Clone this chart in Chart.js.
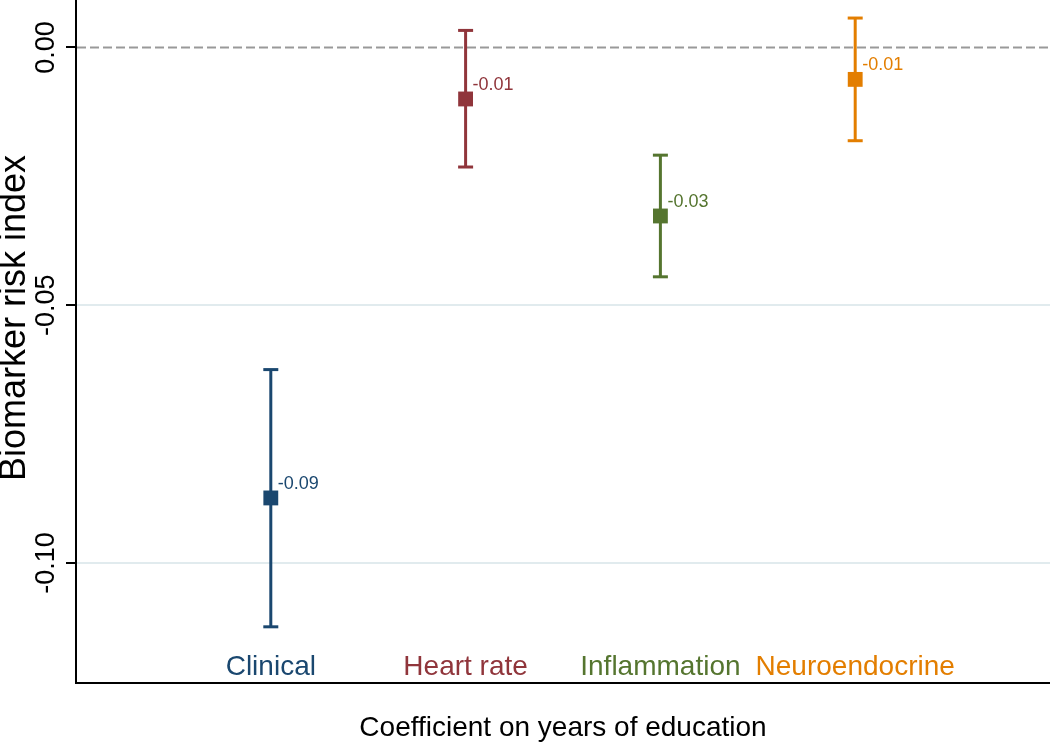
<!DOCTYPE html>
<html>
<head>
<meta charset="utf-8">
<script src="https://cdn.jsdelivr.net/npm/chart.js@4.4.0/dist/chart.umd.min.js"></script>
<style>
    body { margin: 0; background: #fff; }
    canvas { display: block; }
</style>
</head>
<body>
<canvas id="coefChart" width="1050" height="748"></canvas>
<script>
const categories = ['Clinical', 'Heart rate', 'Inflammation', 'Neuroendocrine']
const estimates = [-0.0874, -0.0100, -0.0327, -0.0062]
const lowerCI = [-0.1124, -0.0232, -0.0445, -0.0181]
const upperCI = [-0.0625, 0.0033, -0.0209, 0.0057]
const valueLabels = ['-0.09', '-0.01', '-0.03', '-0.01']
const yTicks = [0, -0.05, -0.10]
const yTickLabels = ['0.00', '-0.05', '-0.10']
const seriesColors = ['#1a476f', '#90353b', '#55752f', '#e37e00']

const FONT = "'Liberation Sans', Arial, Helvetica, sans-serif"

const datasets = []
categories.forEach((cat, i) => {
    // confidence interval with caps
    datasets.push({
        type: 'line',
        label: cat + ' CI',
        data: [{ x: i + 1, y: lowerCI[i] }, { x: i + 1, y: upperCI[i] }],
        borderColor: seriesColors[i],
        borderWidth: 3,
        showLine: true,
        pointStyle: 'line',
        pointRadius: 7.5,
        pointBorderWidth: 3,
        pointBorderColor: seriesColors[i],
        order: 2
    })
    // point estimate
    datasets.push({
        type: 'scatter',
        label: cat,
        data: [{ x: i + 1, y: estimates[i] }],
        pointStyle: 'rect',
        pointRadius: 10.5,
        backgroundColor: seriesColors[i],
        borderWidth: 0,
        order: 1
    })
})

const textPlugin = {
    id: 'textPlugin',
    beforeDatasetsDraw(chart) {
        const { ctx, chartArea, scales } = chart
        const y0 = scales.y.getPixelForValue(0)
        ctx.save()
        ctx.strokeStyle = '#999999'
        ctx.lineWidth = 2
        ctx.setLineDash([9, 4])
        ctx.beginPath()
        ctx.moveTo(chartArea.left + 1, y0)
        ctx.lineTo(chartArea.right, y0)
        ctx.stroke()
        ctx.restore()
    },
    afterDatasetsDraw(chart) {
        const { ctx, chartArea, scales } = chart
        ctx.save()
        // value labels beside markers
        ctx.font = `18px ${FONT}`
        ctx.textAlign = 'left'
        ctx.textBaseline = 'alphabetic'
        categories.forEach((cat, i) => {
            const px = scales.x.getPixelForValue(i + 1)
            const py = scales.y.getPixelForValue(estimates[i])
            ctx.fillStyle = seriesColors[i]
            ctx.fillText(valueLabels[i], px + 7, py - 9)
        })
        // category names inside plot
        ctx.font = `28px ${FONT}`
        ctx.textAlign = 'center'
        categories.forEach((cat, i) => {
            ctx.fillStyle = seriesColors[i]
            ctx.fillText(cat, scales.x.getPixelForValue(i + 1), chartArea.bottom - 8)
        })
        ctx.restore()
    },
    afterDraw(chart) {
        const { ctx, chartArea, scales } = chart
        ctx.save()
        ctx.fillStyle = '#000'
        ctx.textBaseline = 'alphabetic'
        ctx.textAlign = 'center'
        // y tick labels, rotated
        ctx.font = `27px ${FONT}`
        yTicks.forEach((v, i) => {
            const py = scales.y.getPixelForValue(v)
            ctx.save()
            ctx.translate(54, py)
            ctx.rotate(-Math.PI / 2)
            ctx.fillText(yTickLabels[i], 0, 0)
            ctx.restore()
        })
        // y title
        ctx.font = `36px ${FONT}`
        ctx.save()
        ctx.translate(25, 318)
        ctx.rotate(-Math.PI / 2)
        ctx.fillText('Biomarker risk index', 0, 0)
        ctx.restore()
        // x title
        ctx.font = `28px ${FONT}`
        ctx.fillText('Coefficient on years of education', (chartArea.left + chartArea.right) / 2, 736)
        ctx.restore()
    }
}

new Chart(document.getElementById('coefChart'), {
    type: 'scatter',
    data: { datasets: datasets },
    options: {
        responsive: false,
        animation: false,
        layout: { padding: 0, autoPadding: false },
        plugins: {
            legend: { display: false },
            tooltip: { enabled: false }
        },
        scales: {
            x: {
                type: 'linear',
                min: 0,
                max: 5,
                grid: { display: false },
                ticks: { display: false },
                border: { display: true, color: '#000', width: 2 },
                afterFit: scale => { scale.height = 65 }
            },
            y: {
                type: 'linear',
                min: -0.1233,
                max: 0.0092,
                afterBuildTicks: scale => {
                    scale.ticks = yTicks.map(v => ({ value: v }))
                },
                ticks: { display: false },
                grid: {
                    color: ctx => ctx.tick && ctx.tick.value === 0 ? 'rgba(0,0,0,0)' : '#e1ebee',
                    lineWidth: 2,
                    drawTicks: true,
                    tickLength: 10,
                    tickColor: '#000',
                    tickWidth: 2
                },
                border: { display: true, color: '#000', width: 2 },
                afterFit: scale => { scale.width = 76 }
            }
        }
    },
    plugins: [textPlugin]
})
</script>
</body>
</html>
